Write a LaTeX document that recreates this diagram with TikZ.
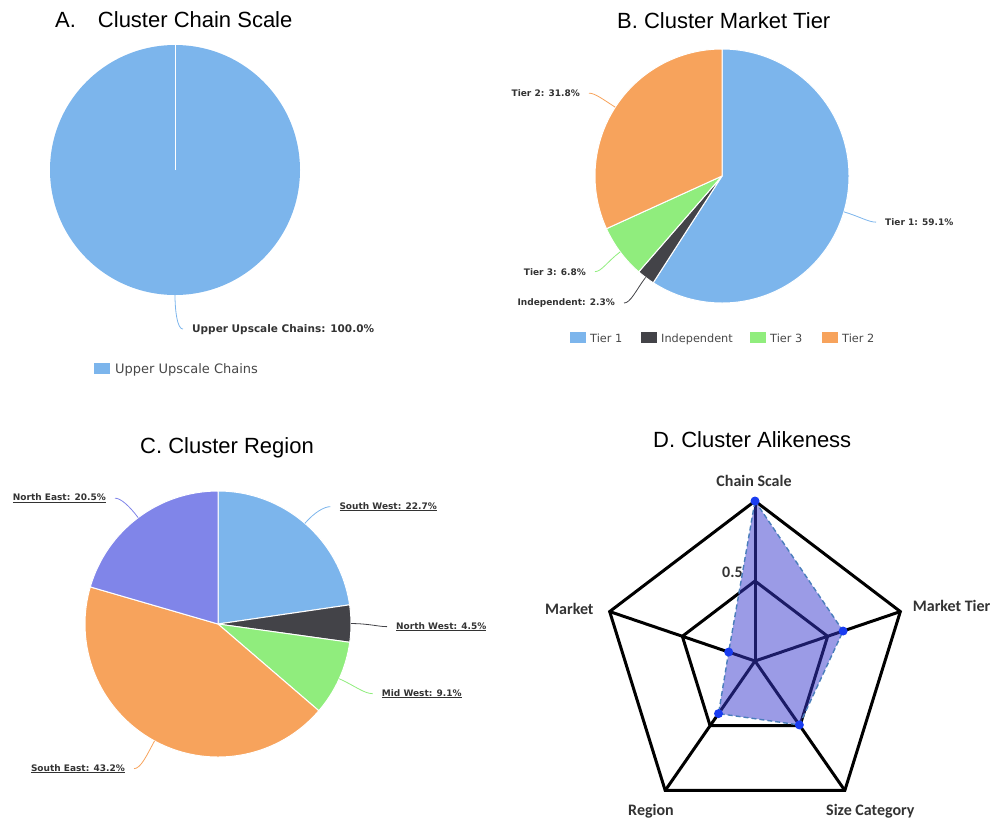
\documentclass[tikz,border=0pt]{standalone}
\usepackage{fontspec}
\setmainfont{Liberation Sans}
\newfontfamily\chartfont{DejaVu Sans}
\newfontfamily\radarfont{Carlito}
\definecolor{hcblue}{HTML}{7CB5EC}
\definecolor{hcdark}{HTML}{434348}
\definecolor{hcgreen}{HTML}{90ED7D}
\definecolor{hcorange}{HTML}{F7A35C}
\definecolor{hcpurple}{HTML}{8085E9}
\definecolor{labelgray}{HTML}{333333}
\definecolor{radarfill}{RGB}{55,55,205}
\definecolor{radaredge}{HTML}{4A7EBB}
\definecolor{radardot}{RGB}{25,60,240}
\begin{document}
\begin{tikzpicture}[x=1pt, y=1pt,
  ttl/.style={anchor=base west, inner sep=0, font=\fontsize{22}{26}\selectfont},
  lbl/.style={inner sep=0, text=labelgray, font=\chartfont\bfseries\fontsize{#1}{#1}\selectfont},
  leg/.style={anchor=base west, inner sep=0, text=labelgray!90!white, font=\chartfont\fontsize{#1}{#1}\selectfont},
  key/.style={fill=#1, minimum width=16pt, minimum height=11pt, inner sep=0},
  con/.style={line width=0.8pt, shorten >=9pt},
  slice/.style={draw=white, line width=1pt, line join=round},
  grid/.style={line width=3pt},
  area/.style={fill=radarfill, fill opacity=0.5, draw=radaredge, line width=1.4pt, dash pattern=on 5pt off 3pt},
  dot/.style={circle, fill=radardot, minimum size=9pt, inner sep=0},
  axis/.style={inner sep=0, text=labelgray, font=\radarfont\bfseries\fontsize{16}{19}\selectfont}]
  \useasboundingbox (0,0) rectangle (992,-820);

  \node[ttl] (ta) at (55,-27.5) {A.\quad Cluster Chain Scale};
  \coordinate (pa) at (175,-170);
  \fill[hcblue] (pa) circle (125);
  \draw[white, line width=1pt] (pa) -- ++(90:125);
  \path (pa) ++(-90:125) coordinate (a1);
  \node[lbl=10.5, anchor=base west] (uuc) at (192,-332) {Upper Upscale Chains: 100.0\%};
  \draw[con, hcblue] (a1) to[out=-90, in=180] (uuc.west);
  \node[key=hcblue] (ka) at (101.5,-368) {};
  \node[leg=13] (la) at (115,-373) {Upper Upscale Chains};

  \node[ttl] (tb) at (617,-28) {B. Cluster Market Tier};
  \coordinate (pb) at (722,-176);
  \foreach \a/\b/\c in {90/-122.8/hcblue, -122.8/-131/hcdark, -131/-155.5/hcgreen, -155.5/-270/hcorange}
    \filldraw[slice, fill=\c] (pb) -- ++(\a:127) arc (\a:\b:127) -- cycle;
  \path (pb) ++(-16.4:127) coordinate (b1) (pb) ++(-127:127) coordinate (b2)
    (pb) ++(-143.3:127) coordinate (b3) (pb) ++(147.2:127) coordinate (b4);
  \node[lbl=9, anchor=base west] (tone) at (885,-225.5) {Tier 1: 59.1\%};
  \node[lbl=9, anchor=base east] (tindep) at (615,-305.5) {Independent: 2.3\%};
  \node[lbl=9, anchor=base east] (tthree) at (586,-275) {Tier 3: 6.8\%};
  \node[lbl=9, anchor=base east] (ttwo) at (580,-96.5) {Tier 2: 31.8\%};
  \draw[con, hcblue] (b1) to[out=-16.4, in=180] (tone.west);
  \draw[con, hcdark] (b2) to[out=-127, in=0] (tindep.east);
  \draw[con, hcgreen] (b3) to[out=-143.3, in=0] (tthree.east);
  \draw[con, hcorange] (b4) to[out=147.2, in=0] (ttwo.east);
  \node[key=hcblue] (kb1) at (578,-337.8) {};
  \node[leg=11.3] (lb1) at (590,-342.5) {Tier 1};
  \node[key=hcdark] (kb2) at (649,-337.8) {};
  \node[leg=11.3] (lb2) at (661,-342.5) {Independent};
  \node[key=hcgreen] (kb3) at (757.5,-337.8) {};
  \node[leg=11.3] (lb3) at (770,-342.5) {Tier 3};
  \node[key=hcorange] (kb4) at (829.7,-337.8) {};
  \node[leg=11.3] (lb4) at (842,-342.5) {Tier 2};

  \node[ttl] (tc) at (140,-453) {C. Cluster Region};
  \coordinate (pc) at (218,-624);
  \foreach \a/\b/\c in {90/8.3/hcblue, 8.3/-7.9/hcdark, -7.9/-40.7/hcgreen, -40.7/-196.2/hcorange, -196.2/-270/hcpurple}
    \filldraw[slice, fill=\c] (pc) -- ++(\a:133) arc (\a:\b:133) -- cycle;
  \path (pc) ++(49.2:133) coordinate (c1) (pc) ++(0.2:133) coordinate (c2)
    (pc) ++(-24.3:133) coordinate (c3) (pc) ++(-118.5:133) coordinate (c4)
    (pc) ++(126.9:133) coordinate (c5);
  \node[lbl=9, anchor=base west] (sw) at (339.3,-509) {\underline{South West: 22.7\%}};
  \node[lbl=9, anchor=base west] (nw) at (396,-629) {\underline{North West: 4.5\%}};
  \node[lbl=9, anchor=base west] (mw) at (381.7,-696) {\underline{Mid West: 9.1\%}};
  \node[lbl=9, anchor=base east] (se) at (125,-771) {\underline{South East: 43.2\%}};
  \node[lbl=9, anchor=base east] (ne) at (106,-500.5) {\underline{North East: 20.5\%}};
  \draw[con, hcblue] (c1) to[out=49.2, in=180] (sw.west);
  \draw[con, hcdark] (c2) to[out=0, in=180] (nw.west);
  \draw[con, hcgreen] (c3) to[out=-24.3, in=180] (mw.west);
  \draw[con, hcorange] (c4) to[out=-118.5, in=0] (se.east);
  \draw[con, hcpurple] (c5) to[out=126.9, in=0] (ne.east);

  \node[ttl] (td) at (653,-447.5) {D. Cluster Alikeness};
  \node[axis, anchor=base west] (lhalf) at (722,-577) {0.5};
  \begin{scope}[shift={(755,-661)}, xscale=0.955]
    \draw[grid] (90:160) -- (18:160) -- (-54:160) -- (-126:160) -- (162:160) -- cycle;
    \draw[grid] (90:80) -- (18:80) -- (-54:80) -- (-126:80) -- (162:80) -- cycle;
    \foreach \a in {90,18,-54,-126,162}
      \draw[grid] (0,0) -- (\a:160);
    \coordinate (dcs) at (90:160);
    \coordinate (dmt) at (18:97);
    \coordinate (dsc) at (-54:79);
    \coordinate (drg) at (-126:65);
    \coordinate (dmk) at (162:29);
    \filldraw[area] (dcs) -- (dmt) -- (dsc) -- (drg) -- (dmk) -- cycle;
  \end{scope}
  \foreach \p in {dcs,dmt,dsc,drg,dmk}
    \node[dot] (\p-dot) at (\p) {};
  \node[axis, anchor=base] (lcs) at (754,-486.5) {Chain Scale};
  \node[axis, anchor=base west] (lmt) at (912.7,-611) {Market Tier};
  \node[axis, anchor=base west] (lmk) at (545,-614) {Market};
  \node[axis, anchor=base] (lrg) at (651,-815) {Region};
  \node[axis, anchor=base west] (lsc) at (826,-815) {Size Category};
\end{tikzpicture}
\end{document}
